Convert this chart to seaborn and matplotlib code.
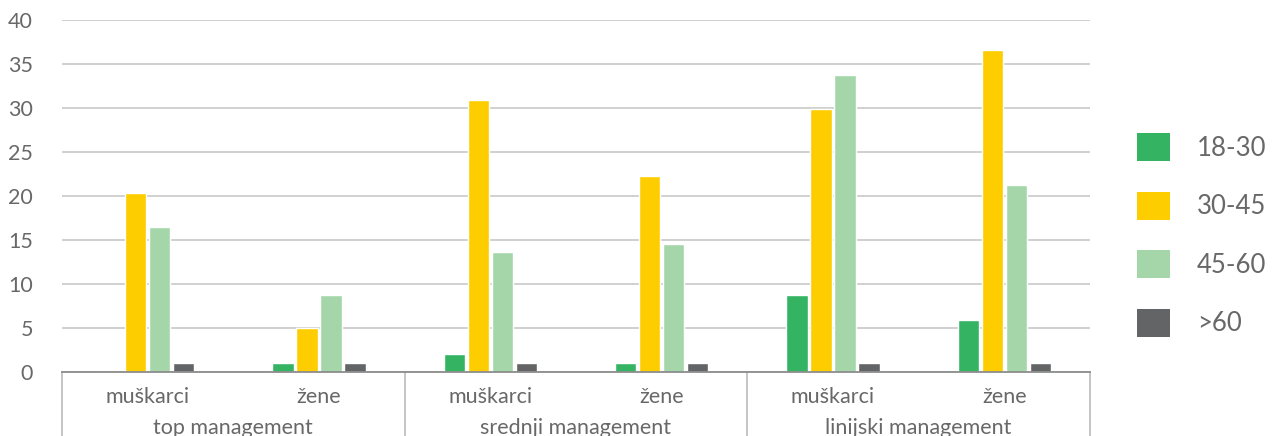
import matplotlib
matplotlib.use("Agg")
import matplotlib.pyplot as plt
import matplotlib.patches as mpatches
import matplotlib.transforms as mtransforms
import seaborn as sns
import pandas as pd

# Management levels, genders and age bands
groups = ["top management", "srednji management", "linijski management"]
genders = ["muškarci", "žene"]
age_bands = ["18-30", "30-45", "45-60", ">60"]

# Share per age band, one value per (level, gender) in order
v_18_30 = [0, 1, 2, 1, 8.8, 5.9]
v_30_45 = [20.3, 5, 30.9, 22.3, 29.9, 36.6]
v_45_60 = [16.5, 8.8, 13.6, 14.5, 33.7, 21.2]
v_over_60 = [1, 1, 1, 1, 1, 1]

y_ticks = [0, 5, 10, 15, 20, 25, 30, 35, 40]
palette = ["#34b463", "#fdcd00", "#a4d6aa", "#636466"]
text_color = "#686868"

# Long-form table for seaborn
keys = [f"{g}|{s}" for g in groups for s in genders]
series = [v_18_30, v_30_45, v_45_60, v_over_60]
rows = []
for band, vals in zip(age_bands, series):
    for k, v in zip(keys, vals):
        rows.append({"key": k, "band": band, "value": v})
df = pd.DataFrame(rows)

sns.set_style("white")
plt.rcParams["font.family"] = ["Lato", "DejaVu Sans"]

W, H = 1277, 436
fig = plt.figure(figsize=(W / 100, H / 100), dpi=100)
ax = fig.add_axes([62 / W, 64 / H, 1028 / W, 352 / H])

sns.barplot(data=df, x="key", y="value", hue="band", order=keys,
            hue_order=age_bands, palette=palette, width=0.56, gap=0.1,
            saturation=1, errorbar=None, legend=False, ax=ax)

ax.set_xlim(-0.5, len(keys) - 0.5)
ax.set_ylim(0, 40)
ax.set_yticks(y_ticks)
ax.set_yticklabels([str(t) for t in y_ticks])
ax.set_xticks(range(len(keys)))
ax.set_xticklabels([k.split("|")[1] for k in keys])
ax.set_xlabel("")
ax.set_ylabel("")

ax.yaxis.grid(True, color="#c4c4c4", linewidth=1.1)
ax.set_axisbelow(True)
for side in ["left", "top", "right"]:
    ax.spines[side].set_visible(False)
ax.spines["bottom"].set_color("#8c8c8c")
ax.spines["bottom"].set_linewidth(1.3)
ax.spines["bottom"].set_zorder(5)

ax.tick_params(axis="y", length=0, pad=21, labelsize=15.5, labelcolor=text_color)
ax.tick_params(axis="x", length=0, pad=10.5, labelsize=15.5, labelcolor=text_color)

# Second-level labels and separators below the axis
trans = mtransforms.blended_transform_factory(ax.transData, ax.transAxes)
for i, g in enumerate(groups):
    ax.annotate(g, xy=(2 * i + 0.5, 0), xycoords=trans, xytext=(0, -40),
                textcoords="offset points", ha="center", va="center",
                fontsize=15.5, color=text_color, annotation_clip=False)
for xb in [-0.5, 1.5, 3.5, 5.5]:
    ax.plot([xb, xb], [0, -0.25], transform=trans, color="#c0c0c0",
            linewidth=1.3, clip_on=False)

# Legend on the right
handles = [mpatches.Patch(facecolor=c, edgecolor="none", label=b)
           for b, c in zip(age_bands, palette)]
leg = fig.legend(handles=handles, loc="center left",
                 bbox_to_anchor=(1137 / W, 1 - 235 / H), frameon=False,
                 fontsize=18.5, handlelength=1.28, handleheight=1.28,
                 labelspacing=1.2, handletextpad=1.05, borderpad=0,
                 borderaxespad=0)
for t in leg.get_texts():
    t.set_color(text_color)

fig.savefig("out.png", dpi=100)
